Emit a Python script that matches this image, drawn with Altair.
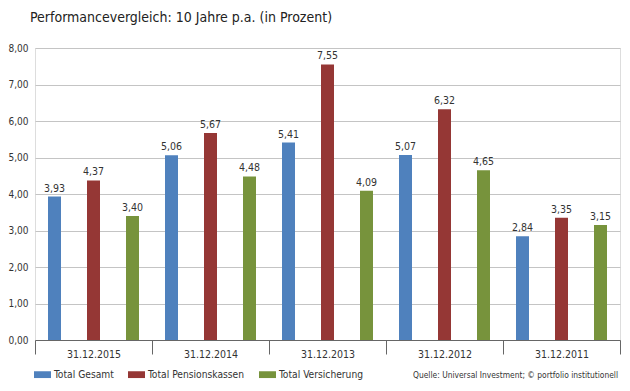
import altair as alt
import pandas as pd

dates = ["31.12.2015", "31.12.2014", "31.12.2013", "31.12.2012", "31.12.2011"]
series = ["Total Gesamt", "Total Pensionskassen", "Total Versicherung"]
gesamt = [3.93, 5.06, 5.41, 5.07, 2.84]
pensionskassen = [4.37, 5.67, 7.55, 6.32, 3.35]
versicherung = [3.40, 4.48, 4.09, 4.65, 3.15]
colors = ["#4f81bd", "#953735", "#77933c"]
y_ticks = [0, 1, 2, 3, 4, 5, 6, 7, 8]
source_text = "Quelle: Universal Investment; © portfolio institutionell"

rows = []
for s, vals in zip(series, [gesamt, pensionskassen, versicherung]):
    for d, v in zip(dates, vals):
        rows.append({"Datum": d, "Serie": s, "Wert": v})
df = pd.DataFrame(rows)

FONT = "'Liberation Sans Narrow', 'DejaVu Sans Condensed', Roboto, sans-serif"

x_enc = alt.X("Datum:N", sort=dates, title=None,
              scale=alt.Scale(paddingInner=0, paddingOuter=0),
              axis=alt.Axis(labelAngle=0, tickBand="extent", tickSize=14,
                            labelPadding=-5, labelFontSize=10.5, labelColor="#333",
                            domainColor="#666", tickColor="#666", labelFont=FONT))
xoff = alt.XOffset("Serie:N", sort=series, scale=alt.Scale(paddingInner=0, paddingOuter=0))
y_enc = alt.Y("Wert:Q", title=None,
              scale=alt.Scale(domain=[0, 8], nice=False),
              axis=alt.Axis(values=y_ticks, domain=False, ticks=False, labelOverlap=False,
                            labelExpr="replace(format(datum.value, '.2f'), '.', ',')",
                            gridColor="#c4c4c4", gridWidth=1.2, labelPadding=7,
                            labelFontSize=10, labelColor="#333", labelFont=FONT))

bars = alt.Chart(df).mark_bar(size=13).encode(
    x=x_enc,
    xOffset=xoff,
    y=y_enc,
    color=alt.Color("Serie:N", sort=series,
                    scale=alt.Scale(domain=series, range=colors),
                    legend=alt.Legend(title=None, orient="none", direction="horizontal",
                                      legendX=-1, legendY=318, padding=0,
                                      symbolType="M-1,-0.4L1,-0.4L1,0.4L-1,0.4Z",
                                      symbolSize=289, symbolStrokeWidth=0,
                                      labelOffset=3, labelFontSize=10.2, labelColor="#333",
                                      labelFont=FONT, columnPadding=14)),
)

labels = alt.Chart(df).transform_calculate(
    txt="replace(format(datum.Wert, '.2f'), '.', ',')"
).mark_text(dy=-8, fontSize=10.5, color="#333", font=FONT).encode(
    x=x_enc,
    xOffset=xoff,
    y=y_enc,
    text="txt:N",
)

source = alt.Chart(pd.DataFrame({"t": [source_text]})).mark_text(
    align="right", baseline="middle", fontSize=8.4, color="#333", font=FONT
).encode(x=alt.value(583), y=alt.value(327), text="t:N")

chart = alt.layer(bars, labels, source).properties(
    width=585, height=292,
    title=alt.Title("Performancevergleich: 10 Jahre p.a. (in Prozent)",
                    anchor="start", frame="group", fontSize=14, fontWeight="normal",
                    color="#222", font=FONT, offset=18, dx=-5),
    autosize=alt.AutoSizeParams(type="none"),
    padding={"left": 27, "top": 40, "right": 2, "bottom": 43},
).configure_view(stroke=None).configure(background="white")

chart.save("out.html", embed_options={"renderer": "svg", "actions": False})
